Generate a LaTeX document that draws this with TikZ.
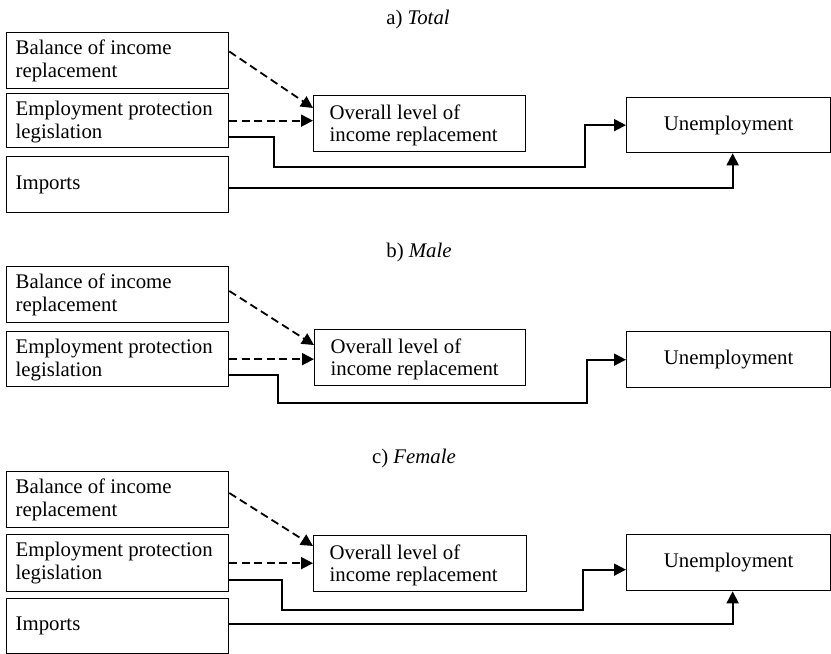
\documentclass[tikz,border=0pt]{standalone}
\usepackage{fontspec}
\setmainfont{Liberation Serif}
\usetikzlibrary{arrows.meta,calc}
\newcommand{\bxtext}[5]{\hbox to #1{\hspace*{#3}\parbox[c][#2][t]{\dimexpr #1-#3\relax}{\raggedright\rule{0pt}{#4}#5}\hss}}
\newcommand{\bxmid}[4]{\hbox to #1{\hspace*{#3}\parbox[c][#2][c]{\dimexpr #1-#3\relax}{\raggedright #4}\hss}}
\begin{document}
\begin{tikzpicture}[x=1pt,y=-1pt,
  font=\fontsize{20.8}{22.5}\selectfont,
  box/.style={draw=black, line width=1.3pt, rectangle, inner sep=0pt, anchor=north west},
  conn/.style={line width=1.8pt, -{Triangle[length=12pt,width=12pt]}},
  dconn/.style={conn, dash pattern=on 8pt off 4.5pt},
  title/.style={anchor=base}
]
\useasboundingbox (0,0) rectangle (831,654);

% ---------- a) Total ----------
\node[title] (tA) at (418,24) {a) \textit{Total}};
\node[box] (balA) at (6,32) {\bxtext{222pt}{56pt}{9pt}{22pt}{Balance of income\\replacement}};
\node[box] (eplA) at (6,93) {\bxtext{222pt}{54pt}{9pt}{22pt}{Employment protection\\legislation}};
\node[box] (impA) at (6,156) {\bxmid{222pt}{56pt}{9pt}{Imports}};
\node[box] (ovrA) at (313,95) {\bxtext{212pt}{56pt}{16pt}{23.5pt}{Overall level of\\income replacement}};
\node[box, minimum width=204pt, minimum height=55pt] (unA) at (626,97) {Unemployment};

\draw[dconn] ($(balA.north east)+(0,19.5)$) -- ($(ovrA.north west)+(0,13)$);
\draw[dconn] (eplA.east) -- (eplA.east -| ovrA.west);
\draw[conn] ($(eplA.south east)+(0,-11)$) -- ++(45,0) |- (585,167) |- (unA.west);
\draw[conn] ($(impA.east)+(0,3)$) -| ($(unA.south)+(4,0)$);

% ---------- b) Male ----------
\node[title] (tB) at (419,257) {b) \textit{Male}};
\node[box] (balB) at (6,266) {\bxtext{222pt}{56pt}{9pt}{22pt}{Balance of income\\replacement}};
\node[box] (eplB) at (6,331) {\bxtext{222pt}{55pt}{9pt}{22pt}{Employment protection\\legislation}};
\node[box] (ovrB) at (314,329) {\bxtext{211pt}{56pt}{16pt}{23.5pt}{Overall level of\\income replacement}};
\node[box, minimum width=204pt, minimum height=56pt] (unB) at (626,331) {Unemployment};

\draw[dconn] ($(balB.north east)+(0,25)$) -- ($(ovrB.north west)+(0,16)$);
\draw[dconn] (eplB.east) -- (eplB.east -| ovrB.west);
\draw[conn] ($(eplB.south east)+(0,-12)$) -- ++(49,0) |- (587,403) |- (unB.west);

% ---------- c) Female ----------
\node[title] (tC) at (414,463) {c) \textit{Female}};
\node[box] (balC) at (6,471) {\bxtext{222pt}{56pt}{9pt}{22pt}{Balance of income\\replacement}};
\node[box] (eplC) at (6,534) {\bxtext{222pt}{57pt}{9pt}{22pt}{Employment protection\\legislation}};
\node[box] (impC) at (6,598) {\bxmid{222pt}{55pt}{9pt}{Imports}};
\node[box] (ovrC) at (313,535) {\bxtext{213pt}{56pt}{16pt}{23.5pt}{Overall level of\\income replacement}};
\node[box, minimum width=204pt, minimum height=56pt] (unC) at (626,534) {Unemployment};

\draw[dconn] ($(balC.north east)+(0,22)$) -- ($(ovrC.north west)+(0,11)$);
\draw[dconn] (eplC.east) -- (eplC.east -| ovrC.west);
\draw[conn] ($(eplC.south east)+(0,-12)$) -- ++(53,0) |- (583,610) |- ($(unC.west)+(0,7)$);
\draw[conn] ($(impC.east)+(0,-2)$) -| ($(unC.south)+(4,0)$);
\end{tikzpicture}
\end{document}
